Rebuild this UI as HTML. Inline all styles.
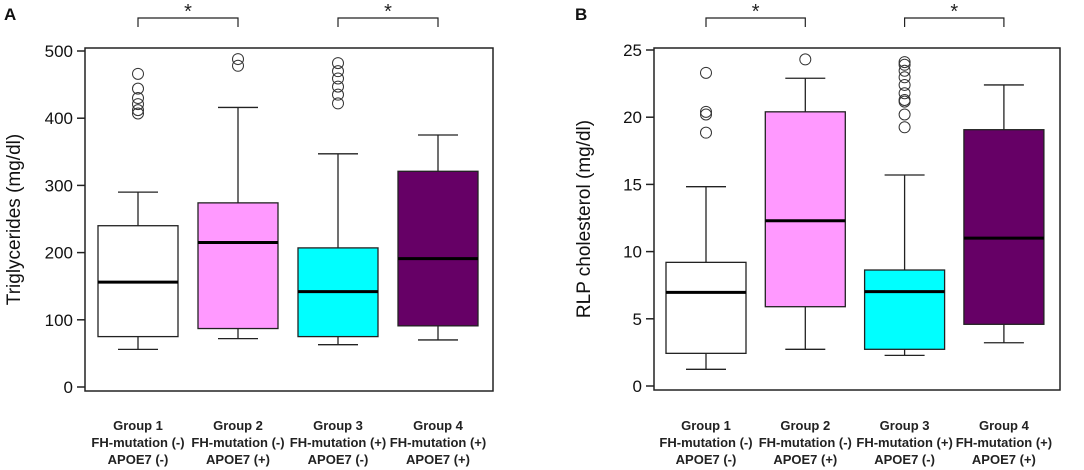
<!DOCTYPE html>
<html><head><meta charset="utf-8"><style>
body{margin:0;background:#fff;}
svg{display:block;font-family:"Liberation Sans",sans-serif;}
</style></head><body>
<svg id="c" width="1084" height="470" xmlns="http://www.w3.org/2000/svg"></svg>
<script>
const groupLabels=[["Group 1","FH-mutation (-)","APOE7 (-)"],["Group 2","FH-mutation (-)","APOE7 (+)"],["Group 3","FH-mutation (+)","APOE7 (-)"],["Group 4","FH-mutation (+)","APOE7 (+)"]];
const fills=["#ffffff","#ff99ff","#00ffff","#660066"];
// Panel A: triglycerides [lowerWhisker, q1, median, q3, upperWhisker]
const statsA=[[56,75,156,240,290],[72,87,215,274,416],[63,75,142,207,347],[70,91,191,321,375]];
const outliersA=[[466,444,430,421,412,407],[488,478],[482,470,459,447,435,422],[]];
const ticksA=[0,100,200,300,400,500];
// Panel B: RLP cholesterol
const statsB=[[1.24,2.43,6.97,9.2,14.83],[2.73,5.9,12.3,20.4,22.9],[2.28,2.73,7.02,8.63,15.7],[3.22,4.59,11.0,19.07,22.4]];
const outliersB=[[23.3,20.4,20.2,18.85],[24.3],[24.1,23.9,23.46,22.97,22.4,21.78,21.28,21.16,20.2,19.25],[]];
const ticksB=[0,5,10,15,20,25];

const svg=document.getElementById('c');
const NS='http://www.w3.org/2000/svg';
function mk(tag,attrs,parent){const e=document.createElementNS(NS,tag);for(const k in attrs)e.setAttribute(k,attrs[k]);(parent||svg).appendChild(e);return e;}

function panel(cfg){
  const g=mk('g',{});
  
  
  const y=v=>cfg.y0+(cfg.y1-cfg.y0)*(v-cfg.vmin)/(cfg.vmax-cfg.vmin);
  const fr=mk('rect',{x:cfg.fx0,y:cfg.fy0,width:cfg.fx1-cfg.fx0,height:cfg.fy1-cfg.fy0,fill:'none',stroke:'#222','stroke-width':1.5},g);
  
  
  cfg.ticks.forEach(t=>{
    const ln=mk('line',{x1:cfg.fx0-8,x2:cfg.fx0,y1:y(t),y2:y(t),stroke:'#222','stroke-width':1.5},g);
    
    
    const tx=mk('text',{x:cfg.fx0-12,y:y(t)+6,'text-anchor':'end','font-size':17,fill:'#111'},g);
    tx.textContent=t;
    
    
  });
  const yl=mk('text',{x:0,y:0,transform:`translate(${cfg.ylx},${(cfg.fy0+cfg.fy1)/2}) rotate(-90)`,'text-anchor':'middle','font-size':19,fill:'#111'},g);
  yl.textContent=cfg.ytitle;
  
  
  const pl=mk('text',{x:cfg.lx,y:20,'font-size':17,'font-weight':'bold',fill:'#111'},g);
  pl.textContent=cfg.letter;
  
  
  cfg.stats.forEach((s,i)=>{
    const cx=cfg.cx0+i*cfg.step, hw=40, cw=20;
    const bg=mk('g',{},g);
    
    
    mk('line',{x1:cx,x2:cx,y1:y(s[0]),y2:y(s[1]),stroke:'#222','stroke-width':1.3},bg);
    mk('line',{x1:cx,x2:cx,y1:y(s[3]),y2:y(s[4]),stroke:'#222','stroke-width':1.3},bg);
    mk('line',{x1:cx-cw,x2:cx+cw,y1:y(s[0]),y2:y(s[0]),stroke:'#222','stroke-width':1.3},bg);
    mk('line',{x1:cx-cw,x2:cx+cw,y1:y(s[4]),y2:y(s[4]),stroke:'#222','stroke-width':1.3},bg);
    mk('rect',{x:cx-hw,y:y(s[3]),width:2*hw,height:y(s[1])-y(s[3]),fill:fills[i],stroke:'#222','stroke-width':1.3},bg);
    mk('line',{x1:cx-hw,x2:cx+hw,y1:y(s[2]),y2:y(s[2]),stroke:'#000','stroke-width':3},bg);
    cfg.outliers[i].forEach(o=>{
      const c=mk('circle',{cx:cx,cy:y(o),r:5.5,fill:'none',stroke:'#333','stroke-width':1},bg);
      
      
    });
    groupLabels[i].forEach((l,k)=>{
      const t=mk('text',{x:cx,y:430+k*17,'text-anchor':'middle','font-size':13,'font-weight':'bold',fill:'#222'},g);
      t.textContent=l;
      
      
    });
  });
  [[0,1],[2,3]].forEach(p=>{
    const xa=cfg.cx0+p[0]*cfg.step, xb=cfg.cx0+p[1]*cfg.step;
    const b=mk('path',{d:`M${xa},27 V18 H${xb} V27`,fill:'none',stroke:'#222','stroke-width':1.2},g);
    
    
    const st=mk('text',{x:(xa+xb)/2,y:18,'text-anchor':'middle','font-size':20,fill:'#222'},g);
    st.textContent='*';
    
    
  });
}
panel({name:'panel-a-triglycerides',letter:'A',lx:4,ytitle:'Triglycerides (mg/dl)',ylx:20,fx0:85,fx1:493,fy0:48,fy1:391,y0:387,y1:51,vmin:0,vmax:500,ticks:ticksA,stats:statsA,outliers:outliersA,cx0:138,step:100});
panel({name:'panel-b-rlp-cholesterol',letter:'B',lx:575,ytitle:'RLP cholesterol (mg/dl)',ylx:590,fx0:654,fx1:1060,fy0:48,fy1:390,y0:386,y1:50,vmin:0,vmax:25,ticks:ticksB,stats:statsB,outliers:outliersB,cx0:706,step:99.3});
</script>
</body></html>
